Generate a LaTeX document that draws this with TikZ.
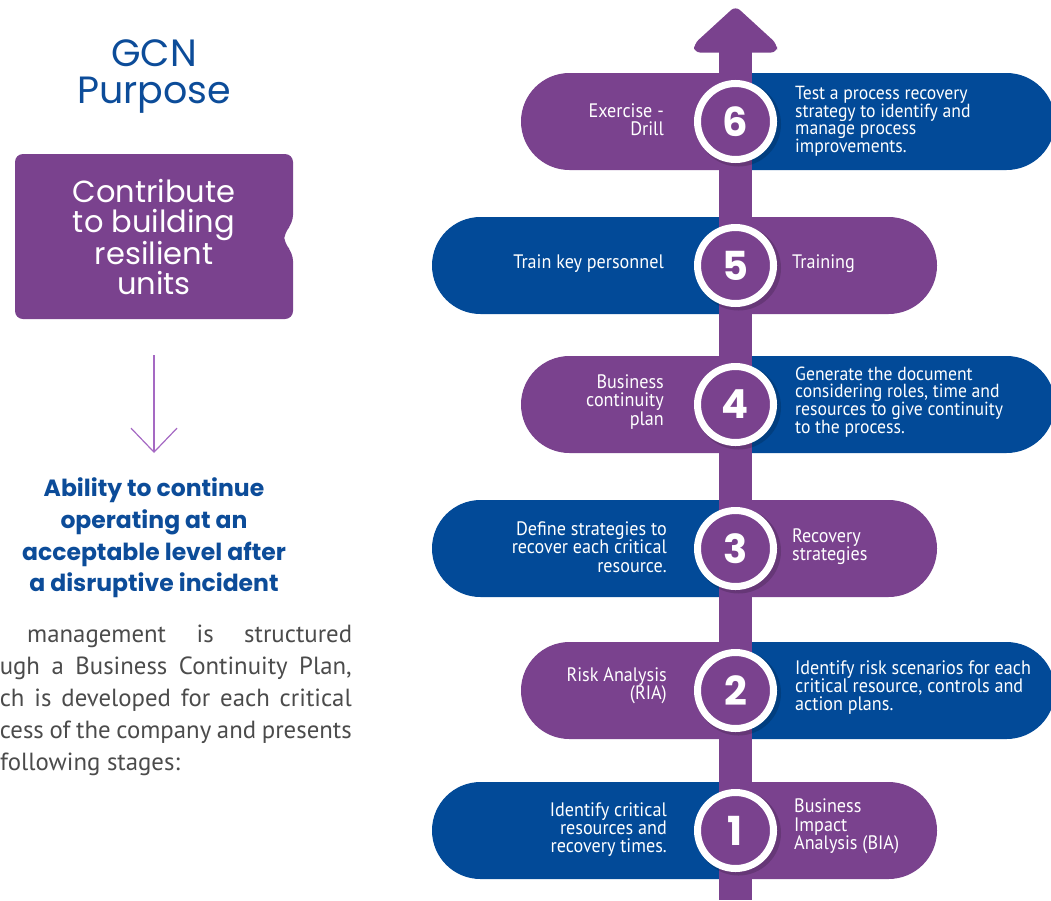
\documentclass[tikz,border=0pt]{standalone}
\usepackage{fontspec}
\usetikzlibrary{arrows.meta}
\newfontfamily\pop{Poppins}
\newfontfamily\pts{PT Sans}[FakeStretch=0.93]
\newfontfamily\ptp{PT Sans}
\definecolor{purp}{RGB}{122,66,142}
\definecolor{bl}{RGB}{2,74,152}
\definecolor{tblue}{RGB}{12,76,153}
\definecolor{arrc}{RGB}{165,105,195}
\definecolor{para}{RGB}{75,75,75}
\newcommand\lpill[3]{\fill[#1] (735.5,{#3-48.5}) -- ({#2+48.5},{#3-48.5}) arc[start angle=270,end angle=90,radius=48.5] -- (735.5,{#3+48.5}) -- cycle;}
\newcommand\rpill[3]{\fill[#1] (735.5,{#3-48.5}) -- ({#2-48.5},{#3-48.5}) arc[start angle=270,end angle=450,radius=48.5] -- (735.5,{#3+48.5}) -- cycle;}
\begin{document}
\begin{tikzpicture}[x=1pt,y=-1pt,
  lefttxt/.style={anchor=east, align=right, text=white, inner sep=0pt, font=\pts\fontsize{19.5}{18.3}\selectfont},
  righttxt/.style={anchor=west, align=left, text=white, inner sep=0pt, font=\pts\fontsize{19.5}{18.3}\selectfont},
  tight/.style={font=\pts\fontsize{19}{16.4}\selectfont},
  num/.style={circle, fill=purp, draw=white, line width=7pt, minimum size=76pt, inner sep=0pt, text=white, font=\pop\bfseries\fontsize{40}{40}\selectfont},
  paraline/.style={inner sep=0pt, text=para, font=\ptp\fontsize{24.8}{26}\selectfont}
]
\useasboundingbox (0,0) rectangle (1051,900);

% ---- left column ----
\node[text=tblue, align=center, inner sep=0pt, font=\pop\fontsize{38}{37}\selectfont] (title) at (154,77) {GCN\\Purpose};

\fill[purp, rounded corners=8] (15,154) -- (293,154) -- (293,223) -- (284,233) -- (284,243) -- (293,253) -- (293,319) -- (15,319) -- cycle;
\node[text=white, align=center, inner sep=0pt, font=\pop\fontsize{30.5}{30}\selectfont] (purpose) at (154,237) {Contribute\\to building\\resilient\\units};

\coordinate (a1) at (154,355);
\coordinate (a2) at (154,453);
\draw[arrc, line width=1.2pt, -{Straight Barb[length=24pt,width=46pt]}] (a1) -- (a2);

\node[text=tblue, align=center, inner sep=0pt, font=\pop\bfseries\fontsize{23.5}{31.7}\selectfont] (ability) at (154,538) {Ability to continue\\operating at an\\acceptable level after\\a disruptive incident};

\node[paraline, anchor=mid west] (p1) at (27,640) {\hbox to 325pt{management\hfill is\hfill structured}};
\node[paraline, anchor=mid east] (p2) at (352,672) {\hbox to 352pt{ugh a Business Continuity Plan,}};
\node[paraline, anchor=mid east] (p3) at (352,704) {\hbox to 352pt{ch is developed for each critical}};
\node[paraline, anchor=mid east] (p4) at (352,736) {\hbox to 352pt{cess of the company and presents}};
\node[paraline, anchor=mid west] (p5) at (0,768) {following stages:};

% ---- pills ----
\lpill{purp}{521}{121.5} \rpill{bl}{1055}{121.5}
\lpill{bl}{432}{265.5}   \rpill{purp}{937}{265.5}
\lpill{purp}{521}{404.5} \rpill{bl}{1055}{404.5}
\lpill{bl}{432}{548.5}   \rpill{purp}{937}{548.5}
\lpill{purp}{521}{690.5} \rpill{bl}{1055}{690.5}
\lpill{bl}{432}{830.5}   \rpill{purp}{937}{830.5}

% ---- central arrow ----
\fill[purp] (719,46) rectangle (752,900);
\fill[purp, rounded corners=6] (735.5,6) -- (777,44) -- (777,52.5) -- (694,52.5) -- (694,44) -- cycle;

% ---- circles ----
\foreach \cy in {121.5,265.5,404.5,548.5,690.5,830.5}
  \fill[black, opacity=0.16] (738.5,\cy+2.5) circle (42.5);
\node[num] (n6) at (735.5,121.5) {6};
\node[num] (n5) at (735.5,265.5) {5};
\node[num] (n4) at (735.5,404.5) {4};
\node[num] (n3) at (735.5,548.5) {3};
\node[num] (n2) at (735.5,690.5) {2};
\node[num] (n1) at (735.5,830.5) {1};

% ---- pill texts ----
\node[lefttxt] (l6) at (664,119.5) {Exercise -\\Drill};
\node[righttxt, tight] (r6) at (795,121.5) {Test a process recovery\\strategy to identify and\\manage process\\improvements.};
\node[lefttxt] (l5) at (664,264) {Train key personnel};
\node[righttxt] (r5) at (792,264) {Training};
\node[lefttxt] (l4) at (664,402) {Business\\continuity\\plan};
\node[righttxt, tight] (r4) at (795,402.5) {Generate the document\\considering roles, time and\\resources to give continuity\\to the process.};
\node[lefttxt] (l3) at (667,547) {Define strategies to\\recover each critical\\resource.};
\node[righttxt] (r3) at (792,547) {Recovery\\strategies};
\node[lefttxt] (l2) at (667,686) {Risk Analysis\\(RIA)};
\node[righttxt] (r2) at (795,687.5) {Identify risk scenarios for each\\critical resource, controls and\\action plans.};
\node[lefttxt] (l1) at (667,829.5) {Identify critical\\resources and\\recovery times.};
\node[righttxt] (r1) at (794,826.5) {Business\\Impact\\Analysis (BIA)};
\end{tikzpicture}
\end{document}
